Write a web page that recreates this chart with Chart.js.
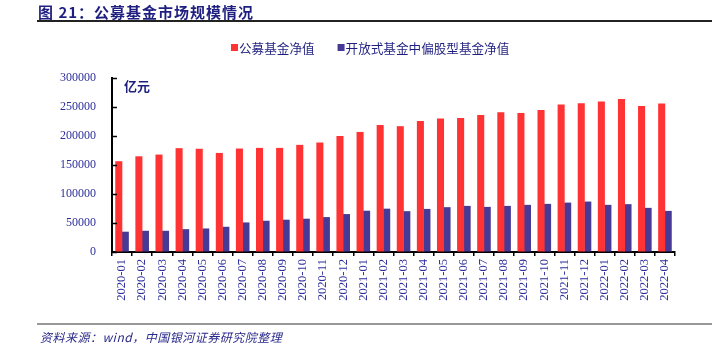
<!DOCTYPE html>
<html>
<head>
<meta charset="utf-8">
<script src="https://cdn.jsdelivr.net/npm/chart.js@4"></script>
<style>
  html, body { margin:0; padding:0; background:#fff; }
  #wrap { position:relative; width:712px; height:352px; overflow:hidden; }
  #chart { position:absolute; left:0; top:0; }
  .title { position:absolute; left:38px; top:1px; font:bold 15px "Noto Sans CJK SC", sans-serif; color:#1f1f80; letter-spacing:1px; }
  .rule { position:absolute; left:37px; right:0; }
  .src { position:absolute; left:40px; top:328px; font:italic 12px "Noto Sans CJK SC", "Liberation Serif", serif; color:#2a2a8a; letter-spacing:0.5px; }
</style>
</head>
<body>
<div id="wrap">
  <canvas id="chart" width="712" height="352"></canvas>
  <div class="title">图 21：公募基金市场规模情况</div>
  <div class="rule" style="top:20px;height:2px;background:#222;"></div>
  <div class="rule" style="top:323px;height:2px;background:#999;"></div>
  <div class="src">资料来源：wind，中国银河证券研究院整理</div>
</div>
<script>
// ── data (亿元) ──
const months = ['2020-01','2020-02','2020-03','2020-04','2020-05','2020-06','2020-07','2020-08','2020-09','2020-10','2020-11','2020-12',
                '2021-01','2021-02','2021-03','2021-04','2021-05','2021-06','2021-07','2021-08','2021-09','2021-10','2021-11','2021-12',
                '2022-01','2022-02','2022-03','2022-04'];
const totalNav  = [156500,165000,168000,179000,178000,170800,178400,179500,179500,184700,188800,200000,
                   207000,219000,216900,226000,230000,231200,236400,240900,239800,245000,254200,256400,
                   259400,264000,251900,255900];
const equityNav = [35000,36600,36600,39400,40600,43500,51000,53900,55700,57400,60200,65400,
                   71200,74700,70400,74300,77300,79500,77800,79500,81300,83000,85200,87000,
                   81300,82500,76100,70900];
const seriesNames = ['公募基金净值','开放式基金中偏股型基金净值'];
const yTicks = [0,50000,100000,150000,200000,250000,300000];

const NAVY = '#2e2e9c';
const RED = '#ff3333';
const BLUE = '#463a96';

// inner y ticks, legend and unit label
const decor = {
  id:'decor',
  afterDraw(chart) {
    const ctx = chart.ctx, y = chart.scales.y, a = chart.chartArea;
    ctx.save();
    ctx.strokeStyle = '#000'; ctx.lineWidth = 1.5;
    yTicks.forEach(v => {
      const py = Math.round(y.getPixelForValue(v)) + 0.5;
      ctx.beginPath(); ctx.moveTo(a.left, py); ctx.lineTo(a.left + 5, py); ctx.stroke();
    });
    // unit
    ctx.fillStyle = '#1f1f80';
    ctx.font = 'bold 13px "Noto Sans CJK SC", sans-serif';
    ctx.textBaseline = 'middle';
    ctx.fillText('亿元', a.left + 12, a.top + 8);
    // legend
    ctx.font = '12.6px "Noto Sans CJK SC", sans-serif';
    let x = 231;
    const ly = 48;
    chart.data.datasets.forEach(ds => {
      ctx.fillStyle = ds.backgroundColor;
      ctx.fillRect(x, ly - 4, 7, 7);
      ctx.fillStyle = '#1f1f80';
      ctx.fillText(ds.label, x + 8, ly);
      x += 8 + ctx.measureText(ds.label).width + 23;
    });
    ctx.restore();
  }
};

new Chart(document.getElementById('chart'), {
  type:'bar',
  data:{
    labels: months,
    datasets:[
      { label:seriesNames[0], data:totalNav,  backgroundColor:RED,  categoryPercentage:0.65, barPercentage:1.08 },
      { label:seriesNames[1], data:equityNav, backgroundColor:BLUE, categoryPercentage:0.65, barPercentage:1.08 }
    ]
  },
  options:{
    responsive:false, animation:false, devicePixelRatio:1,
    layout:{ padding:{ top:78, right:37, bottom:0, left:0 } },
    plugins:{ legend:{display:false}, tooltip:{enabled:false} },
    scales:{
      x:{
        grid:{ display:true, drawOnChartArea:false, drawTicks:true, tickLength:4, color:'#000', lineWidth:1.5, offset:true },
        border:{ display:true, color:'#000', width:2 },
        ticks:{ autoSkip:false, minRotation:90, maxRotation:90, padding:3, color:NAVY, font:{ family:'"Liberation Serif", serif', size:12.5 } },
        afterFit(s){ s.height = 100; }
      },
      y:{
        min:0, max:300000,
        afterBuildTicks(s){ s.ticks = yTicks.map(v => ({ value:v })); },
        grid:{ display:true, drawOnChartArea:false, drawTicks:false },
        border:{ display:true, color:'#000', width:2 },
        ticks:{ padding:16, color:NAVY, font:{ family:'"Liberation Serif", serif', size:12 }, callback:v => String(v) },
        afterFit(s){ s.width = 112; }
      }
    }
  },
  plugins:[decor]
});
</script>
</body>
</html>
